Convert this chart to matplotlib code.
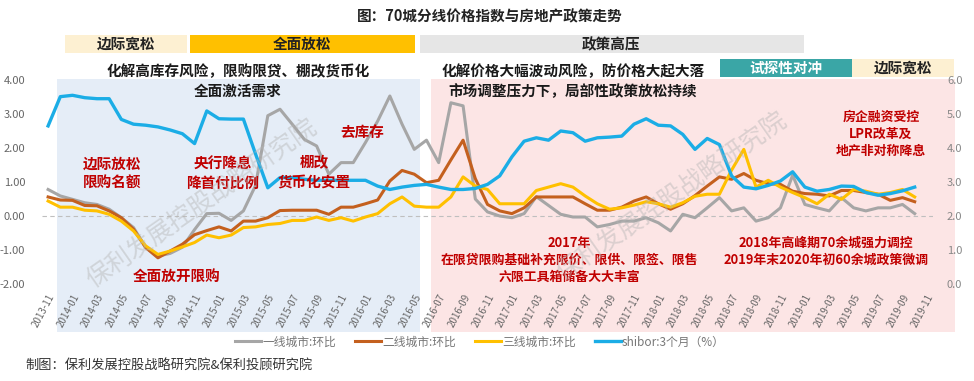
import matplotlib
matplotlib.use("Agg")
import matplotlib.pyplot as plt
from matplotlib.patches import Rectangle
import pandas as pd

plt.rcParams['font.family'] = ['Noto Sans CJK SC', 'DejaVu Sans']

# categories: 2013-11 .. 2019-11 (data up to 2019-10)
months = [p.strftime('%Y-%m') for p in pd.period_range('2013-11', '2019-11', freq='M')]

tier1 = [0.78, 0.59, 0.49, 0.39, 0.34, 0.20, -0.05, -0.34, -0.93, -1.18,
         -1.10, -0.92, -0.40, 0.07, 0.08, -0.13, 0.15, 0.90, 2.95, 3.14,
         2.70, 2.25, 2.06, 1.23, 1.57, 1.57, 2.16, 2.79, 3.53, 2.70,
         1.96, 2.23, 1.57, 3.33, 3.24, 0.50, 0.12, 0.00, -0.05, 0.07,
         0.57, 0.31, 0.05, -0.03, -0.03, -0.32, -0.25, -0.15, -0.15, -0.05,
         -0.20, -0.44, 0.05, -0.05, 0.24, 0.54, 0.15, 0.24, -0.15, -0.05,
         0.24, 1.20, 0.34, 0.24, 0.15, 0.54, 0.24, 0.15, 0.24, 0.24,
         0.34, 0.07]

tier2 = [0.56, 0.47, 0.46, 0.31, 0.30, 0.15, -0.05, -0.39, -0.93, -1.23,
         -1.03, -0.83, -0.55, -0.43, -0.32, -0.44, -0.15, -0.15, -0.05, 0.16,
         0.17, 0.17, 0.17, 0.05, 0.26, 0.26, 0.36, 0.47, 1.03, 1.34,
         1.23, 0.98, 1.05, 1.65, 2.23, 1.10, 0.34, 0.15, 0.07, 0.24,
         0.56, 0.56, 0.56, 0.56, 0.36, 0.17, 0.17, 0.26, 0.44, 0.56,
         0.36, 0.20, 0.36, 0.60, 0.88, 1.15, 1.08, 1.25, 1.05, 0.95,
         0.93, 0.73, 0.66, 0.64, 0.59, 0.75, 0.75, 0.69, 0.64, 0.46,
         0.54, 0.42]

tier3 = [0.44, 0.26, 0.26, 0.17, 0.15, 0.05, -0.15, -0.44, -0.88, -1.13,
         -1.03, -0.91, -0.78, -0.56, -0.64, -0.56, -0.34, -0.32, -0.25, -0.22,
         -0.13, -0.13, -0.03, -0.13, -0.05, -0.15, -0.03, 0.07, 0.36, 0.56,
         0.29, 0.26, 0.26, 0.56, 1.15, 0.88, 0.78, 0.36, 0.36, 0.36,
         0.75, 0.85, 0.95, 0.85, 0.59, 0.36, 0.20, 0.24, 0.32, 0.42,
         0.36, 0.26, 0.39, 0.58, 0.64, 0.64, 1.35, 1.96, 0.85, 1.05,
         0.85, 0.69, 0.54, 0.36, 0.64, 0.49, 0.78, 0.73, 0.64, 0.69,
         0.78, 0.56]

shibor = [4.65, 5.51, 5.55, 5.48, 5.45, 5.45, 4.84, 4.70, 4.67, 4.62,
          4.53, 4.42, 4.13, 5.09, 4.86, 4.85, 4.85, 3.82, 2.83, 3.13,
          3.13, 3.08, 3.05, 3.05, 3.05, 3.05, 3.05, 2.88, 2.78, 2.85,
          2.90, 2.93, 2.85, 2.78, 2.78, 2.81, 2.93, 3.18, 3.74, 4.20,
          4.30, 4.23, 4.50, 4.45, 4.20, 4.30, 4.32, 4.35, 4.70, 4.86,
          4.67, 4.65, 4.40, 3.96, 4.28, 4.10, 3.18, 2.85, 2.80, 2.90,
          3.03, 3.30, 2.85, 2.73, 2.78, 2.88, 2.87, 2.69, 2.61, 2.66,
          2.74, 2.85]

names = ['一线城市:环比', '二线城市:环比', '三线城市:环比', 'shibor:3个月（%）']
colors = ['#A6A6A6', '#C4601E', '#FFC000', '#1BADE6']

W, H = 974, 381
fig = plt.figure(figsize=(W / 100, H / 100), dpi=100)


def fx(x):
    return x / W


def fy(y):
    return 1 - y / H


def box(x0, y0, x1, y1, color):
    fig.patches.append(Rectangle((fx(x0), fy(y1)), fx(x1) - fx(x0), fy(y0) - fy(y1),
                                 transform=fig.transFigure, color=color, zorder=-1, lw=0))


# background zones and policy banners
box(57, 79, 420, 332, '#E5EDF7')
box(431, 79, 955, 332, '#FCE5E5')
box(65, 35, 187, 53, '#FDF0D2')
box(190, 35, 415, 53, '#FFC000')
box(420, 35, 804, 53, '#E6E6E6')
box(720, 59, 852, 77, '#3AA6A6')
box(852, 59, 954, 77, '#FDF0D2')

ax = fig.add_axes([fx(42), fy(284), fx(933) - fx(42), fy(80) - fy(284)])
ax.set_facecolor('none')
ax2 = ax.twinx()

x = list(range(len(tier1)))
l1, = ax.plot(x, tier1, color=colors[0], lw=2.2, label=names[0])
l2, = ax.plot(x, tier2, color=colors[1], lw=2.2, label=names[1])
l3, = ax.plot(x, tier3, color=colors[2], lw=2.2, label=names[2])
l4, = ax2.plot(x, shibor, color=colors[3], lw=2.4, label=names[3])

ax.axhline(0, color='#BFBFBF', lw=0.8, ls=(0, (4, 3)), zorder=1)
ax.set_xlim(-0.5, len(months) - 0.5)
ax.set_ylim(-2, 4)
ax2.set_ylim(0, 6)
ax.set_yticks(range(-2, 5))
ax.set_yticklabels(['%.2f' % v for v in range(-2, 5)])
ax2.set_yticks(range(0, 7))
ax2.set_yticklabels(['%.1f' % v for v in range(0, 7)])
ax.set_xticks(range(0, len(months), 2))
ax.set_xticklabels(months[::2], rotation=62, ha='right', va='top', rotation_mode='anchor')

for a in (ax, ax2):
    for s in a.spines.values():
        s.set_visible(False)
ax.tick_params(axis='y', length=0, pad=12, labelsize=8, labelcolor='#666666')
ax2.tick_params(axis='y', length=0, pad=10, labelsize=8, labelcolor='#888888')
ax.tick_params(axis='x', length=0, pad=6, labelsize=7, labelcolor='#666666')

# titles and banners text
fig.text(fx(490), fy(16), '图：70城分线价格指数与房地产政策走势', ha='center', va='center',
         fontsize=10.5, fontweight='bold', color='#222222')
for cx, cy, s, c in [(126, 44, '边际宽松', '#222222'), (302, 44, '全面放松', '#222222'),
                     (611, 44, '政策高压', '#222222'), (786, 68, '试探性对冲', 'white'),
                     (903, 68, '边际宽松', '#222222')]:
    fig.text(fx(cx), fy(cy), s, ha='center', va='center', fontsize=10.5,
             fontweight='bold', color=c)

fig.text(fx(238), fy(81), '化解高库存风险，限购限贷、棚改货币化\n全面激活需求', ha='center',
         va='center', fontsize=10.5, fontweight='bold', color='#1a1a1a', linespacing=1.25)
fig.text(fx(573), fy(81), '化解价格大幅波动风险，防价格大起大落\n市场调整压力下，局部性政策放松持续',
         ha='center', va='center', fontsize=10.5, fontweight='bold', color='#1a1a1a',
         linespacing=1.25)

red = '#C00000'
for cx, cy, s, fs in [(112, 173, '边际放松\n限购名额', 10.5),
                      (223, 173, '央行降息\n降首付比例', 10.5),
                      (314, 172, '棚改\n货币化安置', 10.5),
                      (362, 132, '去库存', 10.5),
                      (177, 277, '全面放开限购', 10.5),
                      (569, 260, '2017年\n在限贷限购基础补充限价、限供、限签、限售\n六限工具箱储备大大丰富', 9.3),
                      (881, 134, '房企融资受控\nLPR改革及\n地产非对称降息', 9.3),
                      (826, 251, '2018年高峰期70余城强力调控\n2019年末2020年初60余城政策微调', 9.3)]:
    fig.text(fx(cx), fy(cy), s, ha='center', va='center', fontsize=fs, fontweight='bold',
             color=red, linespacing=1.25)

# watermarks
for cx, cy in [(202, 203), (672, 196)]:
    fig.text(fx(cx), fy(cy), '保利发展控股战略研究院', ha='center', va='center', fontsize=18,
             rotation=35, color='#B5B5B5', alpha=0.45, zorder=5)

fig.legend(handles=[l1, l2, l3, l4], loc='center', bbox_to_anchor=(fx(480), fy(342)), ncol=4,
           frameon=False, fontsize=8.5, handlelength=2.2, handletextpad=0.1,
           columnspacing=1.6, labelcolor='#777777')

fig.text(fx(25), fy(366), '制图：保利发展控股战略研究院&保利投顾研究院', ha='left', va='center',
         fontsize=9.5, color='#333333')

fig.savefig('out.png', dpi=100)
